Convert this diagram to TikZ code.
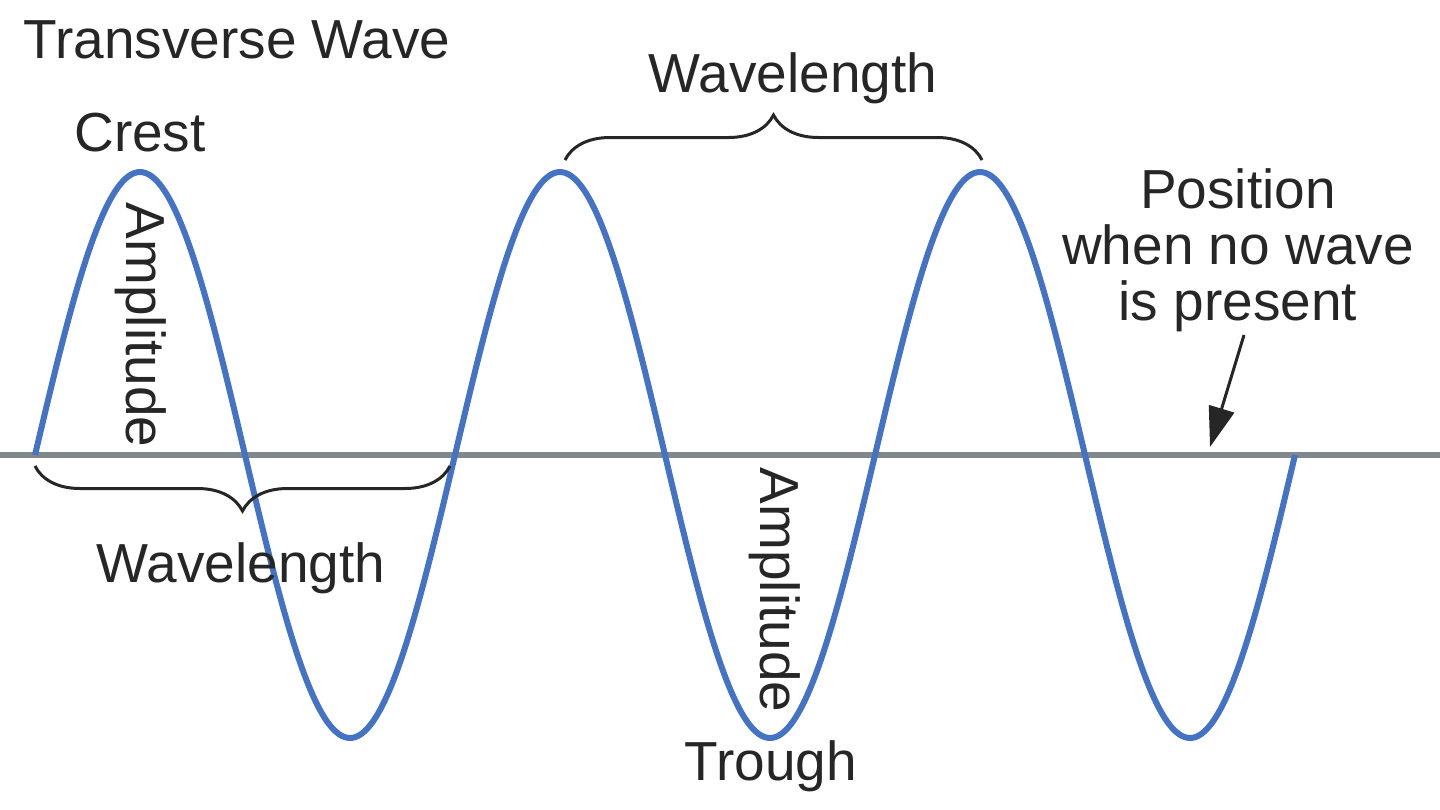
\documentclass[tikz,border=0pt]{standalone}
\usepackage{fontspec}
\setmainfont{Liberation Sans}
\usetikzlibrary{decorations.pathreplacing,arrows.meta}
\definecolor{waveblue}{RGB}{68,114,196}
\definecolor{basegray}{RGB}{128,136,140}
\begin{document}
\begin{tikzpicture}[x=1pt,y=1pt,
  lbl/.style={font=\fontsize{55}{60}\selectfont, inner sep=0pt, text=black!85},
  br/.style={draw=black!85, line width=3pt, decorate, decoration={brace, amplitude=45pt}}]
\useasboundingbox (0,-809) rectangle (1440,0);
\draw[basegray, line width=6pt] (0,-455) coordinate (L) -- (1440,-455) coordinate (R);
\draw[waveblue, line width=6pt, line join=round] plot[domain=0:1260, samples=241, smooth] ({35+\x},{-455+283*sin(\x/420*360)});
\node[lbl] (title) at (237,-40) {Transverse Wave};
\node[lbl] (crest) at (140,-133) {Crest};
\node[lbl, rotate=-90] (amp1) at (141,-325) {Amplitude};
\node[lbl, rotate=-90] (amp2) at (775,-590) {Amplitude};
\node[lbl] (trough) at (771,-766) {Trough};
\node[lbl] (wl1) at (793,-78) {Wavelength};
\node[lbl] (wl2) at (241,-568) {Wavelength};
\node[lbl, align=center, font=\fontsize{55}{56}\selectfont] (pos) at (1238,-250) {Position\\when no wave\\is present};
\coordinate (b1s) at (565,-160); \coordinate (b1e) at (982,-160);
\draw[br] (b1s) -- (b1e);
\coordinate (b2s) at (450,-466); \coordinate (b2e) at (35,-466);
\draw[br] (b2s) -- (b2e);
\coordinate (arrtip) at (1210,-447);
\draw[black!85, line width=3pt, -{Triangle[length=40pt,width=26pt]}] (1244,-335) -- (arrtip);
\end{tikzpicture}
\end{document}
